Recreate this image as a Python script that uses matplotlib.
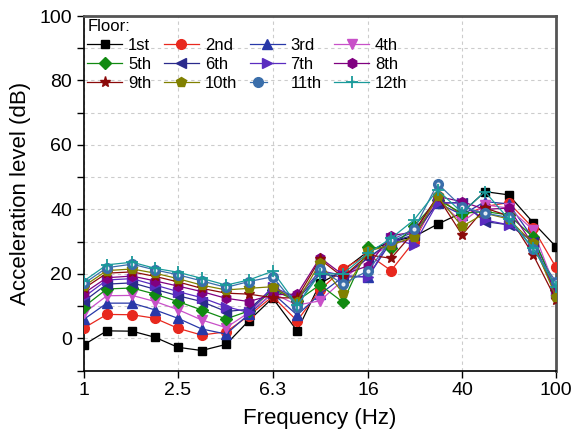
import matplotlib
matplotlib.use("Agg")
import matplotlib.pyplot as plt
from matplotlib.ticker import FixedLocator, NullLocator
from matplotlib.legend_handler import HandlerTuple

plt.rcParams['font.family'] = ['Liberation Sans', 'DejaVu Sans']

freq = [1, 1.25, 1.6, 2, 2.5, 3.15, 4, 5, 6.3, 8, 10, 12.5, 16, 20, 25, 31.5, 40, 50, 63, 80, 100]

floor1 = [-2.0, 2.3, 2.2, 0.3, -2.8, -3.8, -1.9, 5.5, 12.5, 2.3, 17.0, 21.0, 27.0, 30.0, 31.5, 35.4, 39.0, 45.5, 44.5, 35.9, 28.4]
floor2 = [3.2, 7.4, 7.3, 6.2, 3.1, 1.0, 2.0, 7.0, 13.0, 5.4, 15.0, 21.5, 26.0, 21.0, 30.0, 44.0, 38.0, 40.9, 42.1, 34.2, 22.0]
floor3 = [5.9, 10.9, 10.9, 8.8, 6.2, 2.9, 1.3, 7.5, 14.0, 7.2, 13.7, 19.0, 19.1, 30.0, 33.0, 42.0, 38.3, 42.4, 41.7, 31.0, 16.0]
floor4 = [7.8, 13.2, 13.3, 11.4, 8.9, 5.7, 3.3, 8.0, 14.0, 10.3, 11.6, 18.0, 25.0, 29.0, 31.0, 43.0, 36.0, 41.4, 40.4, 33.6, 15.0]
floor5 = [9.8, 15.3, 15.6, 13.7, 11.4, 8.8, 6.0, 8.5, 15.0, 11.6, 16.6, 11.2, 28.2, 28.0, 34.7, 43.0, 38.8, 39.3, 38.3, 31.4, 15.0]
floor6 = [11.5, 16.8, 17.2, 15.2, 13.2, 11.4, 8.3, 9.0, 15.5, 12.0, 20.0, 19.0, 25.0, 30.0, 32.0, 42.0, 42.1, 36.2, 35.2, 30.0, 14.0]
floor7 = [12.8, 18.1, 18.5, 16.5, 14.5, 12.6, 9.8, 8.0, 16.0, 12.5, 21.0, 19.5, 19.0, 31.0, 29.0, 42.0, 42.0, 36.7, 35.2, 30.0, 14.0]
floor8 = [14.0, 18.8, 19.3, 17.8, 16.2, 14.5, 12.4, 11.4, 13.5, 13.7, 25.0, 19.7, 22.5, 31.8, 33.0, 44.0, 42.4, 40.0, 40.4, 29.0, 14.0]
floor9 = [15.5, 20.2, 20.6, 19.2, 17.5, 15.5, 14.0, 13.7, 12.6, 12.5, 24.5, 19.0, 25.9, 24.8, 33.0, 44.0, 32.1, 40.4, 38.0, 25.9, 12.0]
floor10 = [16.2, 21.0, 21.5, 20.2, 18.5, 16.5, 15.0, 15.5, 16.0, 11.4, 23.3, 14.0, 27.0, 29.0, 31.4, 44.0, 34.7, 38.8, 37.0, 29.5, 12.9]
floor11 = [17.0, 21.9, 23.0, 21.2, 19.7, 17.8, 15.8, 17.6, 19.1, 9.8, 21.5, 16.8, 21.0, 30.5, 33.8, 48.0, 40.7, 38.8, 37.5, 27.6, 17.6]
floor12 = [17.8, 22.8, 23.6, 21.7, 20.5, 18.6, 16.5, 18.1, 20.8, 10.3, 20.0, 20.0, 26.4, 31.0, 36.7, 46.0, 39.0, 45.5, 37.0, 28.0, 16.0]

labels = ['1st', '2nd', '3rd', '4th', '5th', '6th', '7th', '8th', '9th', '10th', '11th', '12th']
series = [floor1, floor2, floor3, floor4, floor5, floor6, floor7, floor8, floor9, floor10, floor11, floor12]
colors = ['#000000', '#E8281E', '#2838A8', '#C850C8', '#118A11', '#2A2A8C',
          '#5A2CC0', '#800080', '#8B0A0A', '#808000', '#3A6EAA', '#1A9A9A']
markers = ['s', 'o', '^', 'v', 'D', '<', '>', 'h', '*', 'p', 'o', '+']
msizes = [6, 7, 7, 7, 6, 7, 7, 7, 8, 7, 7, 8]

xticks = [1, 2.5, 6.3, 16, 40, 100]
xticklabels = ['1', '2.5', '6.3', '16', '40', '100']

fig = plt.figure(figsize=(5.81, 4.38), dpi=100)
ax = fig.add_axes([84 / 581, 1 - 370.5 / 438, (556 - 84) / 581, (370.5 - 16) / 438])

handles = []
for i, (y, lab, c, m, ms) in enumerate(zip(series, labels, colors, markers, msizes)):
    ln, = ax.plot(freq, y, color=c, marker=m, markersize=ms, linewidth=0.9,
                  markeredgecolor=c, markerfacecolor=c, markeredgewidth=1.0 if m != '+' else 1.3,
                  zorder=3 + i * 0.01)
    if lab == '11th':
        hl, = ax.plot(freq, y, linestyle='none', marker='o', markersize=2.0,
                      markerfacecolor='white', markeredgecolor='white', alpha=0.8,
                      zorder=3 + i * 0.01 + 0.005)
        handles.append((ln, hl))
    else:
        handles.append(ln)

ax.set_xscale('log')
ax.set_xlim(1, 100)
ax.set_ylim(-10, 100)
ax.xaxis.set_major_locator(FixedLocator(xticks))
ax.xaxis.set_minor_locator(NullLocator())
ax.set_xticklabels(xticklabels)
ax.yaxis.set_major_locator(FixedLocator([0, 20, 40, 60, 80, 100]))
ax.yaxis.set_minor_locator(FixedLocator([-10, 10, 30, 50, 70, 90]))

ax.grid(True, which='major', axis='both', linestyle=(0, (3, 3)), color='#CCCCCC', linewidth=0.8)
ax.grid(True, which='minor', axis='y', linestyle=(0, (3, 3)), color='#CCCCCC', linewidth=0.8)
ax.set_axisbelow(True)

ax.tick_params(axis='both', which='major', direction='out', length=5, width=1, labelsize=14, colors='black')
ax.tick_params(axis='y', which='minor', direction='out', length=5, width=1)
ax.tick_params(top=False, right=False)

for s in ['left', 'bottom']:
    ax.spines[s].set_linewidth(1.2)
    ax.spines[s].set_color('black')
for s in ['top', 'right']:
    ax.spines[s].set_linewidth(2.0)
    ax.spines[s].set_color('#555555')

ax.set_xlabel('Frequency (Hz)', fontsize=16, labelpad=6)
ax.set_ylabel('Acceleration level (dB)', fontsize=16, labelpad=6)

order = [0, 4, 8, 1, 5, 9, 2, 6, 10, 3, 7, 11]
leg = ax.legend([handles[k] for k in order], [labels[k] for k in order],
                handler_map={tuple: HandlerTuple(ndivide=None, pad=0)},
                ncol=4, loc='upper left', bbox_to_anchor=(0.0, 1.0),
                frameon=False, fontsize=12, title='Floor:', title_fontsize=12,
                handlelength=2.1, handletextpad=0.35, columnspacing=0.75,
                labelspacing=0.24, borderaxespad=0.1, borderpad=0.1)
leg._legend_box.align = 'left'

fig.savefig('out.png', dpi=100)
